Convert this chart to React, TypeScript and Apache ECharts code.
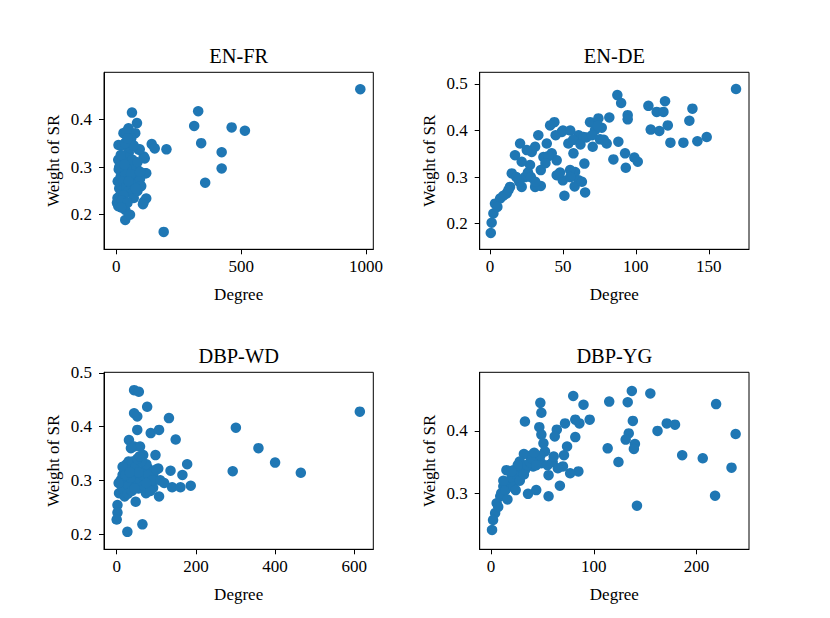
import React, { useEffect, useRef } from "react";
import * as echarts from "echarts";

const panelTitles = ["EN-FR", "EN-DE", "DBP-WD", "DBP-YG"];

const enFr: [number, number][] = [
  [977, 0.463], [328, 0.417], [312, 0.386], [340, 0.35], [356, 0.267], [422, 0.331], [422, 0.297], [462, 0.383], [515, 0.376],
  [63, 0.414], [83, 0.392], [49, 0.381], [29, 0.371], [76, 0.371], [40, 0.374], [60, 0.36], [9, 0.346], [142, 0.348], [154, 0.339],
  [201, 0.337], [190, 0.164], [110, 0.227], [116, 0.287], [110, 0.322], [90, 0.336], [94, 0.337], [36, 0.189], [36, 0.21], [114, 0.318],
  [120, 0.287], [120, 0.234], [107, 0.222],
  [5, 0.235], [3, 0.225], [8, 0.218], [15, 0.24], [12, 0.255], [20, 0.262], [6, 0.27], [18, 0.28], [10, 0.295], [25, 0.3], [15, 0.31],
  [8, 0.315], [30, 0.32], [40, 0.325], [50, 0.33], [55, 0.31], [45, 0.295], [35, 0.285], [28, 0.27], [40, 0.26], [50, 0.25], [60, 0.245],
  [70, 0.235], [30, 0.24], [22, 0.23], [45, 0.225], [65, 0.27], [75, 0.285], [80, 0.3], [65, 0.315], [55, 0.34], [70, 0.345], [85, 0.31],
  [95, 0.275], [100, 0.26], [85, 0.25], [25, 0.345], [18, 0.325], [60, 0.285], [50, 0.27], [35, 0.35], [45, 0.36], [20, 0.215], [55, 0.2],
  [95, 0.29], [78, 0.255], [12, 0.3], [33, 0.305],
];

const enDe: [number, number][] = [
  [168.7, 0.489], [87.3, 0.476], [89.9, 0.459], [94.4, 0.433], [94.4, 0.424], [81.8, 0.428], [108.6, 0.453], [114.3, 0.44], [120, 0.463],
  [118.9, 0.44], [110.2, 0.402], [116.1, 0.399], [121.9, 0.411], [123.7, 0.374], [132.6, 0.374], [136.7, 0.421], [138.8, 0.447],
  [142.2, 0.377], [148.6, 0.386], [84.6, 0.338], [88, 0.376], [92.6, 0.351], [93.1, 0.32], [99, 0.342], [101.3, 0.333], [75.4, 0.381],
  [68.6, 0.418], [74.3, 0.426], [70.4, 0.365], [64.7, 0.329], [65.2, 0.267], [51, 0.26], [44.1, 0.418], [41.2, 0.411], [45.7, 0.304],
  [49.9, 0.293], [49.2, 0.397], [33.1, 0.39], [20.6, 0.372], [17.1, 0.347], [14.9, 0.308], [21.7, 0.279], [30.9, 0.279], [34.8, 0.281],
  [34.8, 0.315], [36.6, 0.343], [27.4, 0.326], [28.6, 0.354], [13.7, 0.279], [11.4, 0.265], [6.9, 0.254], [3.4, 0.243], [2.3, 0.222],
  [1.1, 0.202], [0.5, 0.18], [5, 0.236], [9.1, 0.26], [12.6, 0.272], [58.3, 0.311], [60.7, 0.293], [54.9, 0.315], [53.7, 0.372],
  [57.2, 0.351], [60.7, 0.39], [64, 0.386], [72, 0.401], [76.6, 0.406], [80, 0.372], [45.7, 0.336], [42.3, 0.351], [38.9, 0.372],
  [30.9, 0.365], [25.2, 0.358], [21.7, 0.333],
  [45, 0.39], [50, 0.4], [55, 0.4], [57, 0.38], [62, 0.37], [66, 0.385], [70, 0.39], [74, 0.41], [78, 0.38], [40, 0.345], [38, 0.33],
  [24, 0.3], [26, 0.31], [20, 0.29], [18, 0.3], [28, 0.3], [31, 0.29], [48, 0.31], [55, 0.3], [58, 0.28], [63, 0.29],
];

const dbpWd: [number, number][] = [
  [614, 0.428], [301, 0.398], [293, 0.317], [358, 0.36], [400, 0.333], [465, 0.314], [44, 0.468], [56, 0.465], [77, 0.437], [44, 0.425],
  [52, 0.419], [132, 0.416], [149, 0.376], [52, 0.394], [31, 0.375], [86, 0.388], [107, 0.394], [98, 0.347], [44, 0.363], [59, 0.363],
  [67, 0.347], [27, 0.204], [65, 0.218], [48, 0.26], [2, 0.254], [2, 0.24], [0, 0.227], [6, 0.276], [107, 0.27], [136, 0.318],
  [178, 0.33], [166, 0.31], [187, 0.29], [140, 0.287], [161, 0.287], [92, 0.286], [74, 0.276], [105, 0.322], [92, 0.31], [92, 0.3],
  [80, 0.322], [18, 0.326], [35, 0.332],
  [10, 0.3], [15, 0.31], [20, 0.32], [25, 0.33], [30, 0.335], [35, 0.325], [40, 0.315], [45, 0.305], [50, 0.295], [55, 0.285], [60, 0.3],
  [65, 0.31], [70, 0.32], [75, 0.33], [80, 0.31], [12, 0.29], [18, 0.28], [25, 0.3], [30, 0.29], [35, 0.305], [40, 0.335], [48, 0.325],
  [55, 0.315], [62, 0.335], [68, 0.29], [20, 0.27], [28, 0.275], [38, 0.28], [45, 0.285], [15, 0.325], [22, 0.31], [33, 0.315],
  [52, 0.34], [58, 0.345], [36, 0.36], [85, 0.28], [90, 0.3], [100, 0.32], [110, 0.3], [120, 0.295], [75, 0.295], [5, 0.295],
];

const dbpYg: [number, number][] = [
  [238, 0.395], [234, 0.341], [219, 0.443], [218, 0.296], [206, 0.356], [186, 0.361], [179, 0.41], [171, 0.412], [162, 0.4], [155, 0.46],
  [137, 0.464], [133, 0.446], [138, 0.416], [134, 0.396], [131, 0.386], [140, 0.379], [139, 0.371], [142, 0.28], [124, 0.35],
  [113.5, 0.372], [115, 0.447], [96, 0.418], [90, 0.442], [80, 0.456], [86, 0.412], [82, 0.418], [82, 0.39], [85, 0.335], [77, 0.332],
  [71, 0.361], [74, 0.375], [72, 0.412], [64, 0.402], [62, 0.391], [67, 0.312], [56, 0.295], [56, 0.329], [48, 0.445], [49, 0.429],
  [47, 0.406], [49, 0.394], [51, 0.38], [52.5, 0.367], [33, 0.415], [36, 0.299], [44, 0.305], [60, 0.35], [46, 0.356], [38, 0.36],
  [32, 0.363], [28, 0.351], [22, 0.337], [15, 0.337], [25, 0.321], [18.5, 0.311], [12, 0.311], [9, 0.295], [5.5, 0.284], [4, 0.268],
  [2, 0.257], [1, 0.241], [7, 0.278], [28, 0.332], [33, 0.337], [41, 0.343], [49, 0.348], [61, 0.359], [70, 0.343],
  [10, 0.3], [14, 0.305], [18, 0.318], [20, 0.325], [22, 0.31], [25, 0.33], [28, 0.32], [30, 0.34], [35, 0.345], [38, 0.35], [40, 0.355],
  [24, 0.305], [16, 0.29], [12, 0.32], [26, 0.345], [32, 0.33], [20, 0.335], [44, 0.345], [55, 0.345], [65, 0.34], [48, 0.36], [42, 0.365],
];

const xTicksEnFr = [0, 500, 1000];
const yTicksEnFr = [0.2, 0.3, 0.4];
const xTicksEnDe = [0, 50, 100, 150];
const yTicksEnDe = [0.2, 0.3, 0.4, 0.5];
const xTicksDbpWd = [0, 200, 400, 600];
const yTicksDbpWd = [0.2, 0.3, 0.4, 0.5];
const xTicksDbpYg = [0, 100, 200];
const yTicksDbpYg = [0.3, 0.4];

const xAxisName = "Degree";
const yAxisName = "Weight of SR";

export default function App() {
  const ref = useRef<HTMLDivElement>(null);

  useEffect(() => {
    document.body.style.margin = "0";
    if (!ref.current) return;
    const chart = echarts.init(ref.current, undefined, { renderer: "svg" });
    const font = "Liberation Serif";
    const left = [104, 479.7, 104, 479.7];
    const top = [72.3, 72.3, 372.3, 372.3];
    const w = 269.3;
    const h = 177;
    const xr = [[-49, 1029], [-7.1, 177.6], [-32, 648], [-11, 251]];
    const yr = [[0.1275, 0.4985], [0.145, 0.525], [0.1715, 0.5013], [0.21, 0.494]];
    const xt = [xTicksEnFr, xTicksEnDe, xTicksDbpWd, xTicksDbpYg];
    const yt = [yTicksEnFr, yTicksEnDe, yTicksDbpWd, yTicksDbpYg];
    const data = [enFr, enDe, dbpWd, dbpYg];
    const tickText = { fontFamily: font, fontSize: 17, color: "#000" };

    const grids = [0, 1, 2, 3].map((i) => ({
      left: left[i], top: top[i], width: w, height: h,
      show: true, borderColor: "#000", borderWidth: 1, backgroundColor: "transparent",
      containLabel: false,
    }));
    const xAxes = [0, 1, 2, 3].map((i) => ({
      type: "value", gridIndex: i, min: xr[i][0], max: xr[i][1],
      name: xAxisName, nameLocation: "middle", nameGap: 37,
      nameTextStyle: { fontFamily: font, fontSize: 17, color: "#000" },
      axisLine: { show: true, onZero: false, lineStyle: { color: "#000", width: 1 } },
      axisTick: { show: true, length: 5, inside: false, customValues: xt[i], lineStyle: { color: "#000", width: 1 } },
      axisLabel: {
        show: true, customValues: xt[i], margin: 9, ...tickText,
        formatter: (v: number) => `{t|${Math.round(v)}}`,
        rich: { t: tickText },
      },
      splitLine: { show: false },
    }));
    const yAxes = [0, 1, 2, 3].map((i) => ({
      type: "value", gridIndex: i, min: yr[i][0], max: yr[i][1],
      name: yAxisName, nameLocation: "middle", nameGap: 42,
      nameTextStyle: { fontFamily: font, fontSize: 17, color: "#000" },
      axisLine: { show: true, onZero: false, lineStyle: { color: "#000", width: 1 } },
      axisTick: { show: true, length: 5, inside: false, customValues: yt[i], lineStyle: { color: "#000", width: 1 } },
      axisLabel: {
        show: true, customValues: yt[i], margin: 12, ...tickText,
        formatter: (v: number) => `{t|${v.toFixed(1)}}`,
        rich: { t: tickText },
      },
      splitLine: { show: false },
    }));
    const series = [0, 1, 2, 3].map((i) => ({
      type: "scatter", xAxisIndex: i, yAxisIndex: i, data: data[i],
      symbol: "circle", symbolSize: 10.5,
      itemStyle: { color: "#1f77b4", opacity: 1 },
      emphasis: { disabled: true },
    }));
    const graphic = [0, 1, 2, 3].map((i) => ({
      type: "text", x: left[i] + w / 2, y: top[i] - 16.6,
      style: { text: panelTitles[i], fontFamily: font, fontSize: 20.4, fill: "#000", align: "center", verticalAlign: "middle" },
    }));

    chart.setOption({
      animation: false,
      backgroundColor: "#fff",
      textStyle: { fontFamily: font, fontSize: 17, color: "#000" },
      grid: grids,
      xAxis: xAxes,
      yAxis: yAxes,
      series,
      graphic,
    } as any);
    return () => chart.dispose();
  }, []);

  return <div ref={ref} style={{ position: "absolute", left: 0, top: 0, width: 830, height: 618 }} />;
}
